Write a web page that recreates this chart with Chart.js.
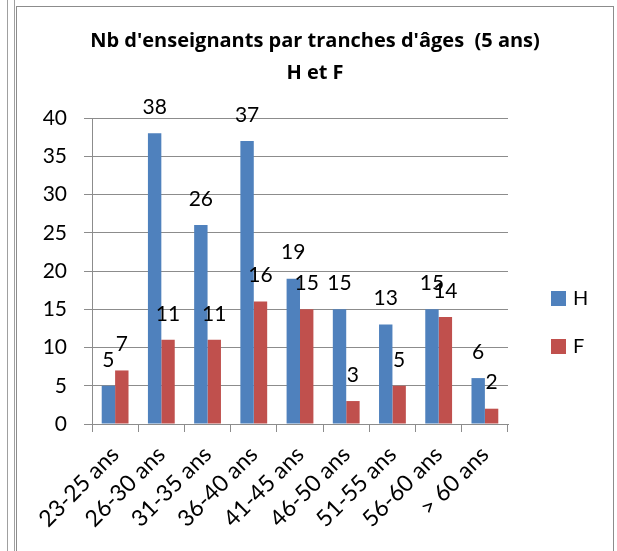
<!DOCTYPE html>
<html>
<head>
<meta charset="utf-8">
<script src="https://cdn.jsdelivr.net/npm/chart.js@4"></script>
<style>
  html, body { margin:0; padding:0; background:#fff; width:617px; height:551px; overflow:hidden; }
  .rule { position:absolute; top:0; width:1px; height:551px; background:#a0a0a0; }
  #frame { position:absolute; left:16px; top:6px; width:596px; height:560px;
           border-top:1px solid #8c8c8c; border-left:1px solid #8c8c8c; border-right:1px solid #8c8c8c; }
  #wrap { position:absolute; left:17px; top:7px; width:596px; height:544px; }
</style>
</head>
<body>
<div class="rule" style="left:7px"></div>
<div class="rule" style="left:14px"></div>
<div id="frame"></div>
<div id="wrap"><canvas id="chart" width="596" height="544"></canvas></div>
<script>
const categories = ["23-25 ans","26-30 ans","31-35 ans","36-40 ans","41-45 ans","46-50 ans","51-55 ans","56-60 ans","> 60 ans"];
const hommes = [5, 38, 26, 37, 19, 15, 13, 15, 6];
const femmes = [7, 11, 11, 16, 15, 3, 5, 14, 2];
const yMin = 0, yMax = 40, yStep = 5;
const titleLines = ["Nb d'enseignants par tranches d'âges  (5 ans)", "H et F"];

const C = { h:"#4f81bd", f:"#c0504d", grid:"#8c8c8c", text:"#000" };
const FONT = "Lato";

// values written above each bar (Excel "outside end" labels)
const valueLabels = {
  id:"valueLabels",
  afterDatasetsDraw(chart) {
    const ctx = chart.ctx;
    ctx.save();
    ctx.font = `21px ${FONT}`;
    ctx.fillStyle = C.text;
    ctx.textAlign = "center";
    ctx.textBaseline = "middle";
    chart.data.datasets.forEach((ds, i) => {
      chart.getDatasetMeta(i).data.forEach((bar, j) => {
        ctx.fillText(String(ds.data[j]), bar.x, bar.y - 26);
      });
    });
    ctx.restore();
  }
};

// legend on the right, squares + series name
const sideLegend = {
  id:"sideLegend",
  afterDraw(chart) {
    const ctx = chart.ctx, a = chart.chartArea;
    ctx.save();
    ctx.font = `20px ${FONT}`;
    ctx.textBaseline = "middle";
    ctx.textAlign = "left";
    chart.data.datasets.forEach((ds, i) => {
      const x = a.right + 43, cy = 291.5 + i * 48;
      ctx.fillStyle = ds.backgroundColor;
      ctx.fillRect(x, cy - 7.5, 15, 15);
      ctx.fillStyle = C.text;
      ctx.fillText(ds.label, x + 22, cy);
    });
    ctx.restore();
  }
};

new Chart(document.getElementById("chart"), {
  type:"bar",
  data:{
    labels:categories,
    datasets:[
      { label:"H", data:hommes, backgroundColor:C.h, borderWidth:0 },
      { label:"F", data:femmes, backgroundColor:C.f, borderWidth:0 },
    ]
  },
  options:{
    responsive:false, animation:false,
    categoryPercentage:0.58, barPercentage:1,
    layout:{ padding:0 },
    plugins:{
      legend:{ display:false },
      tooltip:{ enabled:false },
      title:{ display:true, text:titleLines, color:C.text,
        font:{ family:"Open Sans", size:20, weight:"bold", lineHeight:32/20 },
        padding:{ top:18.5, bottom:28.5 } },
    },
    scales:{
      x:{
        grid:{ drawOnChartArea:false, drawTicks:true, tickLength:8, color:C.grid },
        border:{ display:true, color:C.grid },
        ticks:{ color:C.text, font:{ family:FONT, size:23 }, minRotation:45, maxRotation:45, padding:9 },
        afterFit(s){ s.height = 127; },
      },
      y:{
        min:yMin, max:yMax,
        grid:{ color:C.grid, tickLength:8 },
        border:{ display:true, color:C.grid },
        ticks:{ stepSize:yStep, color:C.text, font:{ family:FONT, size:21 }, padding:17 },
        afterFit(s){ s.width = 75; },
      },
      // empty axis that only keeps room for the legend on the right
      side:{
        position:"right", display:true,
        grid:{ display:false }, border:{ display:false }, ticks:{ display:false },
        afterFit(s){ s.width = 105; },
      }
    }
  },
  plugins:[valueLabels, sideLegend],
});
</script>
</body>
</html>
